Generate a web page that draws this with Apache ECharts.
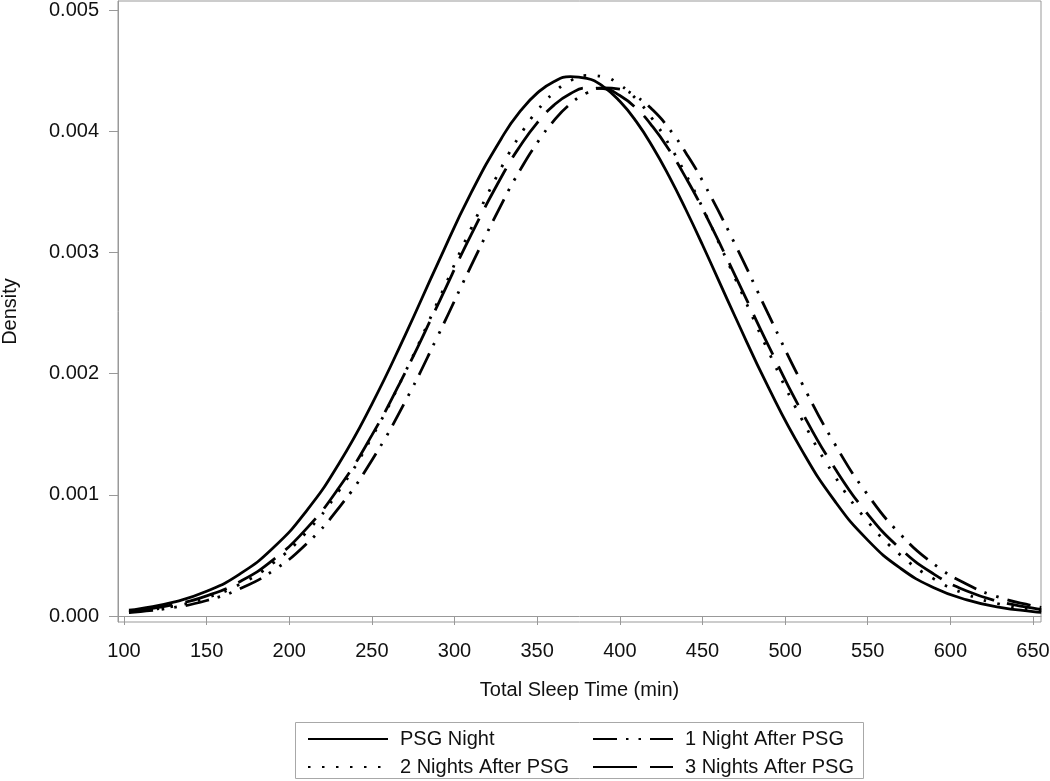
<!DOCTYPE html>
<html>
<head>
<meta charset="utf-8">
<script src="https://cdn.jsdelivr.net/npm/echarts@6/dist/echarts.min.js"></script>
<style>
html,body{margin:0;padding:0;background:#fff;}
#chart{width:1050px;height:781px;}
</style>
</head>
<body>
<div id="chart"></div>
<script>
// Total sleep time (min) sample positions
const sleepMinutes = [103, 110, 130, 150, 170, 190, 210, 230, 250, 270, 290, 310, 330, 340, 350, 360, 370, 380, 390, 400, 410, 420, 430, 440, 450, 470, 490, 510, 530, 550, 570, 590, 610, 630, 650, 655];

// Density values
const psgNight = [0.000048, 0.000061, 0.000114, 0.000204, 0.000346, 0.000559, 0.000860, 0.001257, 0.001749, 0.002314, 0.002914, 0.003491, 0.003978, 0.004169, 0.004314, 0.004409, 0.004450, 0.004436, 0.004368, 0.004247, 0.004079, 0.003868, 0.003623, 0.003352, 0.003063, 0.002463, 0.001884, 0.001371, 0.000950, 0.000626, 0.000392, 0.000234, 0.000133, 0.000072, 0.000037, 0.000031];
const oneNightAfter = [0.000029, 0.000037, 0.000070, 0.000128, 0.000224, 0.000372, 0.000590, 0.000892, 0.001286, 0.001766, 0.002314, 0.002889, 0.003440, 0.003687, 0.003904, 0.004085, 0.004224, 0.004316, 0.004358, 0.004347, 0.004285, 0.004174, 0.004018, 0.003821, 0.003591, 0.003060, 0.002486, 0.001925, 0.001421, 0.001000, 0.000671, 0.000429, 0.000262, 0.000152, 0.000084, 0.000072];
const twoNightsAfter = [0.000033, 0.000042, 0.000081, 0.000150, 0.000261, 0.000434, 0.000686, 0.001032, 0.001476, 0.002008, 0.002598, 0.003197, 0.003743, 0.003975, 0.004169, 0.004317, 0.004416, 0.004460, 0.004449, 0.004382, 0.004264, 0.004096, 0.003886, 0.003642, 0.003370, 0.002779, 0.002180, 0.001627, 0.001155, 0.000780, 0.000501, 0.000306, 0.000178, 0.000098, 0.000052, 0.000044];
const threeNightsAfter = [0.000039, 0.000049, 0.000093, 0.000166, 0.000283, 0.000461, 0.000715, 0.001058, 0.001492, 0.002006, 0.002572, 0.003144, 0.003663, 0.003884, 0.004069, 0.004213, 0.004309, 0.004356, 0.004351, 0.004294, 0.004188, 0.004035, 0.003842, 0.003615, 0.003361, 0.002803, 0.002229, 0.001689, 0.001221, 0.000841, 0.000552, 0.000346, 0.000206, 0.000118, 0.000064, 0.000054];

const seriesNames = ['PSG Night', '1 Night After PSG', '2 Nights After PSG', '3 Nights After PSG'];
const xTicks = [100, 150, 200, 250, 300, 350, 400, 450, 500, 550, 600, 650];
const yTicks = [0, 0.001, 0.002, 0.003, 0.004, 0.005];

const FONT = "'Liberation Sans', Arial, sans-serif";
const pairs = vals => sleepMinutes.map((x, i) => [x, vals[i]]);

const lineStyles = {
  'PSG Night': { type: 'solid' },
  '1 Night After PSG': { type: [24, 9, 2.5, 10, 2.5, 9] },
  '2 Nights After PSG': { type: [2.5, 11.5] },
  '3 Nights After PSG': { type: [44, 13] }
};
const values = {
  'PSG Night': psgNight,
  '1 Night After PSG': oneNightAfter,
  '2 Nights After PSG': twoNightsAfter,
  '3 Nights After PSG': threeNightsAfter
};

const chart = echarts.init(document.getElementById('chart'), null, { renderer: 'canvas' });

const legendCommon = {
  orient: 'vertical',
  top: 729,
  height: 50,
  padding: 0,
  itemWidth: 80,
  itemHeight: 14,
  itemGap: 8,
  selectedMode: false,
  itemStyle: { opacity: 0 },
  textStyle: { fontFamily: FONT, fontSize: 20, color: '#111', lineHeight: 20, padding: [0, 0, 0, 7] }
};

chart.setOption({
  animation: false,
  textStyle: { fontFamily: FONT },
  grid: { left: 118, right: 9, top: 1, bottom: 159, show: true, borderColor: '#999', borderWidth: 1, containLabel: false, outerBoundsMode: 'none' },
  xAxis: {
    type: 'value',
    min: 96.37,
    max: 654.84,
    name: 'Total Sleep Time (min)',
    nameLocation: 'middle',
    nameGap: 58,
    nameTextStyle: { fontFamily: FONT, fontSize: 20, color: '#111' },
    axisLine: { show: true, lineStyle: { color: '#999', width: 1 } },
    axisTick: { show: true, length: 9, lineStyle: { color: '#999' }, customValues: xTicks },
    axisLabel: { fontFamily: FONT, fontSize: 20, color: '#111', margin: 19, customValues: xTicks },
    splitLine: { show: false }
  },
  yAxis: {
    type: 'value',
    min: -0.0000495,
    max: 0.0050743,
    name: 'Density',
    nameLocation: 'middle',
    nameGap: 98,
    nameRotate: 90,
    nameTextStyle: { fontFamily: FONT, fontSize: 20, color: '#111' },
    axisLine: { show: true, lineStyle: { color: '#999', width: 1 } },
    axisTick: { show: true, length: 9, lineStyle: { color: '#999' }, customValues: yTicks },
    axisLabel: { fontFamily: FONT, fontSize: 20, color: '#111', margin: 19, customValues: yTicks, formatter: v => v.toFixed(3) },
    splitLine: { show: false }
  },
  legend: [
    Object.assign({ data: ['PSG Night', '2 Nights After PSG'], left: 307 }, legendCommon),
    Object.assign({ data: ['1 Night After PSG', '3 Nights After PSG'], left: 592 }, legendCommon)
  ],
  graphic: [{
    type: 'rect',
    shape: { x: 295.5, y: 722.5, width: 568, height: 56 },
    style: { fill: 'none', stroke: '#a8a8a8', lineWidth: 1 },
    silent: true
  }],
  series: seriesNames.map(name => ({
    name,
    type: 'line',
    data: pairs(values[name]),
    smooth: true,
    symbol: 'none',
    showSymbol: false,
    clip: false,
    lineStyle: Object.assign({ color: '#000', width: 2.8, cap: 'butt' }, lineStyles[name]),
    itemStyle: { color: '#000' },
    emphasis: { disabled: true }
  }))
});
</script>
</body>
</html>
